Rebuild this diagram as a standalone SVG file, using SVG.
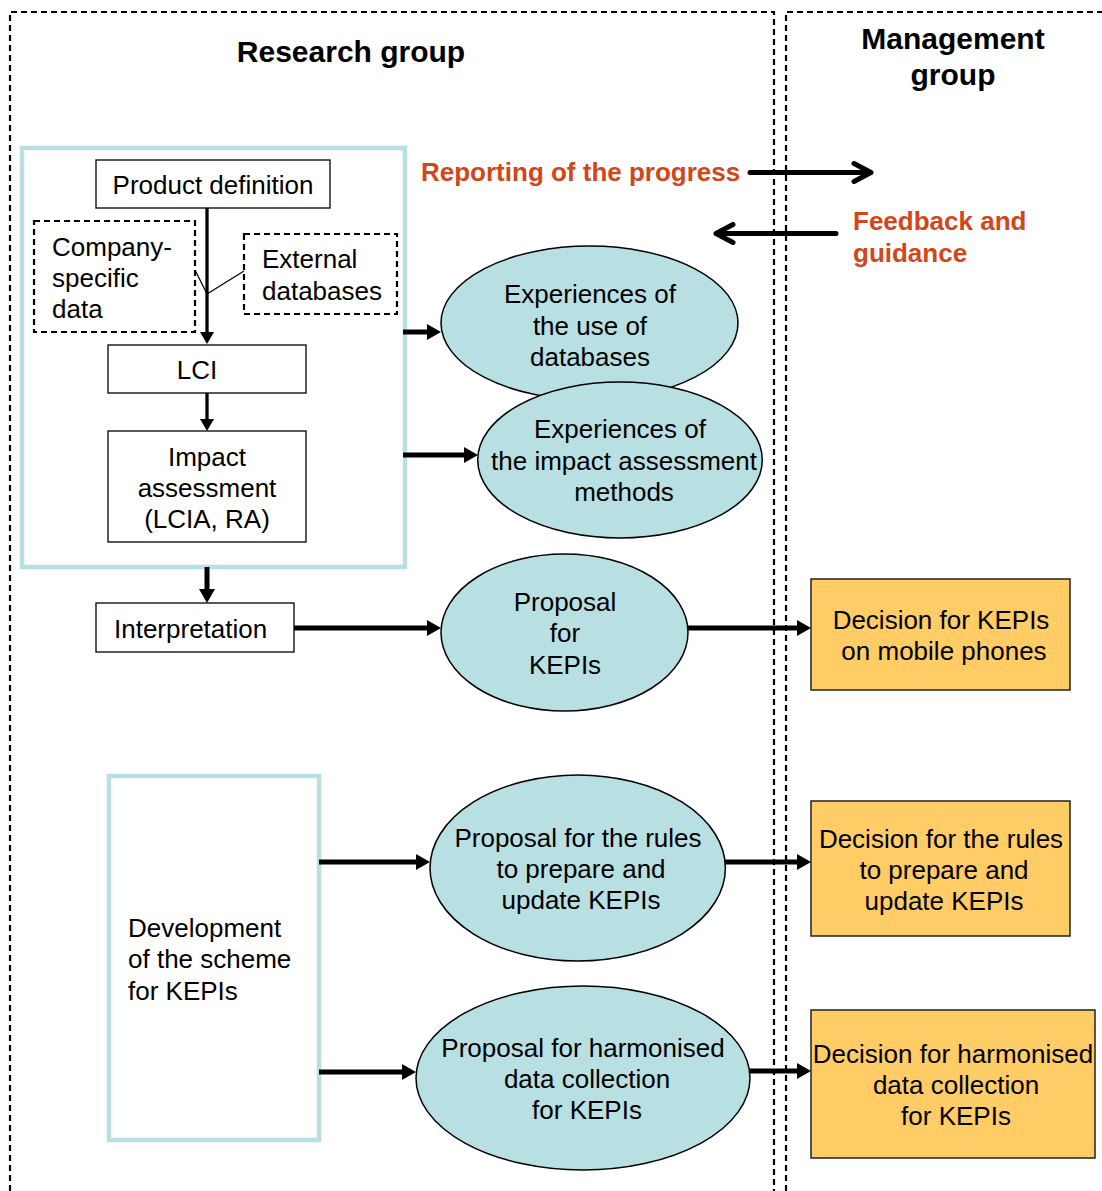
<svg xmlns="http://www.w3.org/2000/svg" width="1102" height="1191" viewBox="0 0 1102 1191">
<style>
text{font-family:"Liberation Sans",Arial,sans-serif;font-size:26px;fill:#000}
.title{font-weight:bold;font-size:30px}
.org{font-weight:bold;font-size:26px;fill:#D2461A}
.c{text-anchor:middle}
.dash{fill:none;stroke:#000;stroke-width:2.2;stroke-dasharray:6 4}
.box{fill:#fff;stroke:#000;stroke-width:1.3}
.dbox{fill:#fff;stroke:#000;stroke-width:2.2;stroke-dasharray:6 4}
.frame{fill:none;stroke:#B8DFE2;stroke-width:4.5}
.ell{fill:#B8DFE2;stroke:#000;stroke-width:1.5}
.dec{fill:#FFCC66;stroke:#222;stroke-width:1.5}
.thick{stroke:#000;stroke-width:5;fill:none}
.thin{stroke:#000;stroke-width:3.3;fill:none}
.hair{stroke:#000;stroke-width:1.3;fill:none}
.open{stroke:#000;stroke-width:5;fill:none;stroke-linecap:round;stroke-linejoin:round}
</style>
<defs>
<marker id="ah" markerUnits="userSpaceOnUse" viewBox="0 0 14 16" markerWidth="14" markerHeight="16" refX="0" refY="8" orient="auto" overflow="visible">
<path d="M0,0 L14,8 L0,16 Z" fill="#000"/>
</marker>
<marker id="ahs" markerUnits="userSpaceOnUse" viewBox="0 0 12 14" markerWidth="12" markerHeight="14" refX="0" refY="7" orient="auto" overflow="visible">
<path d="M0,0 L12,7 L0,14 Z" fill="#000"/>
</marker>
</defs>

<g id="lanes">
<path class="dash" d="M10,1191 V12 H774 V1191"/>
<path class="dash" d="M786,1191 V12 H1102"/>
<text class="title c" x="351" y="62">Research group</text>
<text class="title c" x="953" y="49">Management</text>
<text class="title c" x="953" y="85">group</text>
</g>

<g id="lca-frame"><rect class="frame" x="22" y="148" width="383" height="419"/></g>

<g id="product-definition">
<rect class="box" x="96" y="160" width="234" height="48"/>
<text class="c" x="213" y="194">Product definition</text>
</g>
<g id="company-data">
<rect class="dbox" x="34" y="221" width="161" height="111"/>
<text x="52" y="256">Company-</text>
<text x="52" y="287">specific</text>
<text x="52" y="318">data</text>
</g>
<g id="external-db">
<rect class="dbox" x="244" y="234" width="153" height="80"/>
<text x="262" y="268">External</text>
<text x="262" y="300">databases</text>
</g>
<g id="lci">
<rect class="box" x="108" y="345" width="198" height="48"/>
<text class="c" x="197" y="379">LCI</text>
</g>
<g id="impact">
<rect class="box" x="108" y="431" width="198" height="111"/>
<text class="c" x="207" y="466">Impact</text>
<text class="c" x="207" y="497">assessment</text>
<text class="c" x="207" y="528">(LCIA, RA)</text>
</g>
<g id="interpretation">
<rect class="box" x="96" y="603" width="198" height="49"/>
<text x="114" y="638">Interpretation</text>
</g>

<g id="exp-databases">
<ellipse class="ell" cx="589.5" cy="323" rx="148.5" ry="77"/>
<text class="c" x="590" y="303">Experiences of</text>
<text class="c" x="590" y="335">the use of</text>
<text class="c" x="590" y="366">databases</text>
</g>
<g id="exp-impact">
<ellipse class="ell" cx="620" cy="460" rx="142.3" ry="78"/>
<text class="c" x="620" y="438">Experiences of</text>
<text class="c" x="624" y="470">the impact assessment</text>
<text class="c" x="624" y="501">methods</text>
</g>
<g id="proposal-kepis">
<ellipse class="ell" cx="564.5" cy="632.5" rx="123.5" ry="78.5"/>
<text class="c" x="565" y="611">Proposal</text>
<text class="c" x="565" y="642">for</text>
<text class="c" x="565" y="674">KEPIs</text>
</g>
<g id="development">
<rect class="frame" x="109" y="776" width="210" height="364"/>
<text x="128" y="937">Development</text>
<text x="128" y="968">of the scheme</text>
<text x="128" y="1000">for KEPIs</text>
</g>
<g id="proposal-rules">
<ellipse class="ell" cx="577.7" cy="868" rx="147.7" ry="93"/>
<text class="c" x="578" y="847">Proposal for the rules</text>
<text class="c" x="581" y="878">to prepare and</text>
<text class="c" x="581" y="909">update KEPIs</text>
</g>
<g id="proposal-harmonised">
<ellipse class="ell" cx="583" cy="1078" rx="167" ry="92"/>
<text class="c" x="583" y="1057">Proposal for harmonised</text>
<text class="c" x="587" y="1088">data collection</text>
<text class="c" x="587" y="1119">for KEPIs</text>
</g>

<g id="decision-kepis">
<rect class="dec" x="811" y="579" width="259" height="111"/>
<text class="c" x="941" y="629">Decision for KEPIs</text>
<text class="c" x="944" y="660">on mobile phones</text>
</g>
<g id="decision-rules">
<rect class="dec" x="811" y="801" width="259" height="135"/>
<text class="c" x="941" y="848">Decision for the rules</text>
<text class="c" x="944" y="879">to prepare and</text>
<text class="c" x="944" y="910">update KEPIs</text>
</g>
<g id="decision-harmonised">
<rect class="dec" x="811" y="1010" width="284" height="148"/>
<text class="c" x="953" y="1063">Decision for harmonised</text>
<text class="c" x="956" y="1094">data collection</text>
<text class="c" x="956" y="1125">for KEPIs</text>
</g>

<g id="feedback-labels">
<text class="org" x="421" y="181">Reporting of the progress</text>
<text class="org" x="853" y="230">Feedback and</text>
<text class="org" x="853" y="262">guidance</text>
</g>

<g id="connectors">
<line class="thin" x1="207" y1="208" x2="207" y2="332" marker-end="url(#ahs)"/>
<line class="hair" x1="195" y1="270" x2="207" y2="294"/>
<line class="hair" x1="244" y1="271" x2="207" y2="294"/>
<line class="thin" x1="207" y1="393" x2="207" y2="419" marker-end="url(#ahs)"/>
<line class="thick" x1="207" y1="567" x2="207" y2="589" marker-end="url(#ah)"/>
<line class="thick" x1="403" y1="332" x2="427" y2="332" marker-end="url(#ah)"/>
<line class="thick" x1="403" y1="455" x2="464" y2="455" marker-end="url(#ah)"/>
<line class="thick" x1="294" y1="628" x2="427" y2="628" marker-end="url(#ah)"/>
<line class="thick" x1="688" y1="628" x2="797" y2="628" marker-end="url(#ah)"/>
<line class="thick" x1="319" y1="862" x2="416" y2="862" marker-end="url(#ah)"/>
<line class="thick" x1="319" y1="1072" x2="402" y2="1072" marker-end="url(#ah)"/>
<line class="thick" x1="725" y1="862" x2="797" y2="862" marker-end="url(#ah)"/>
<line class="thick" x1="749" y1="1071" x2="797" y2="1071" marker-end="url(#ah)"/>
<path class="open" d="M750,172.5 H871 M854,163.5 L871,172.5 L854,181.5"/>
<path class="open" d="M836,233.5 H716 M733,224.5 L716,233.5 L733,242.5"/>
</g>
</svg>
